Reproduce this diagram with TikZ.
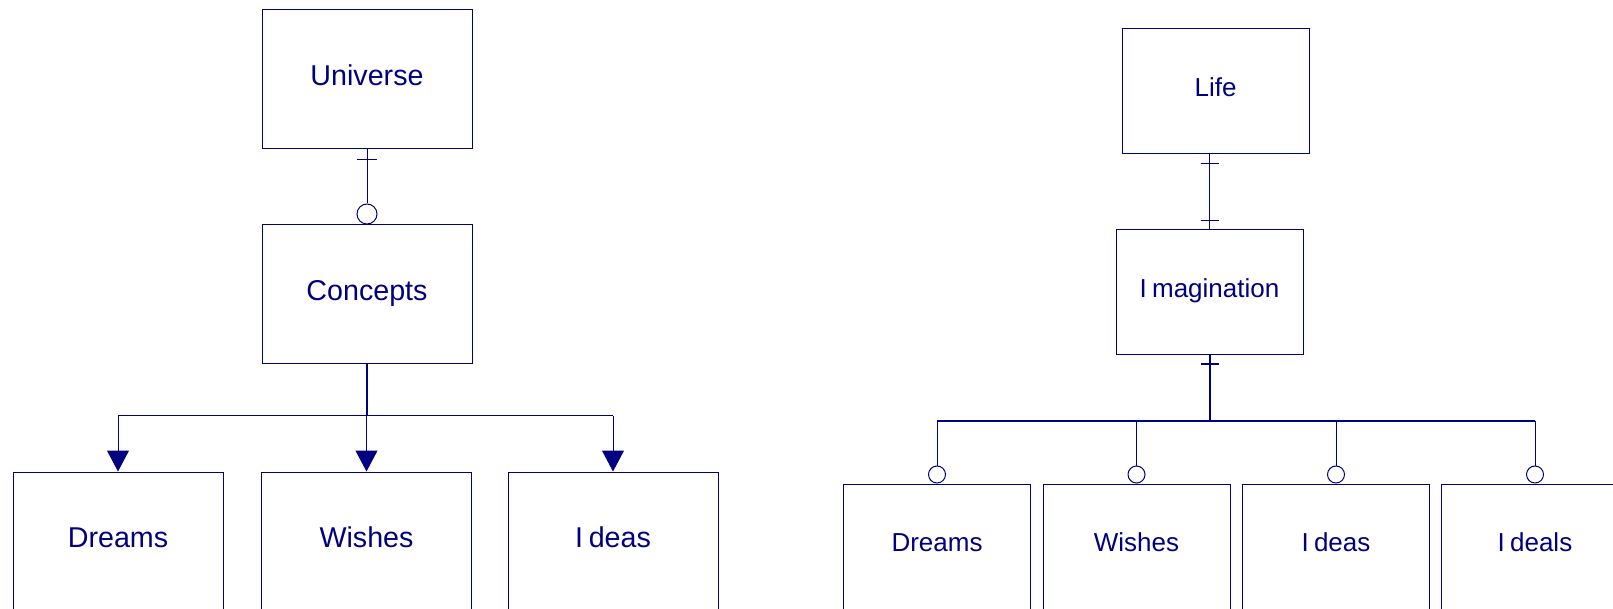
\documentclass[tikz,border=0pt]{standalone}
\usepackage{fontspec}
\setmainfont{Liberation Sans}
\usetikzlibrary{arrows.meta,calc}
\definecolor{navy}{RGB}{0,0,128}
\begin{document}
\begin{tikzpicture}[x=0.75pt,y=-0.75pt,
  box/.style={draw=navy, line width=0.75pt, text=navy, inner sep=0pt, fill=white},
  lbox/.style={box, minimum width=157.5pt, minimum height=104.25pt,
    font=\fontsize{21.5}{24}\selectfont, text height=16pt, text depth=6.6pt},
  rbox/.style={box, minimum width=140.25pt, minimum height=93.75pt,
    font=\fontsize{19.5}{22}\selectfont, text height=14.5pt, text depth=6.54pt},
  rchild/.style={rbox, minimum height=97.5pt, text depth=11.04pt},
  conn/.style={draw=navy, line width=0.75pt},
  heavy/.style={draw=navy, line width=1.5pt},
  arr/.style={-{Triangle[length=15.75pt,width=16.5pt]}},
  lopt/.style={circle, draw=navy, line width=0.75pt, fill=white, minimum size=15pt, inner sep=0pt},
  ropt/.style={circle, draw=navy, line width=0.75pt, fill=white, minimum size=12.75pt, inner sep=0pt}
]
\useasboundingbox (0,0) rectangle (1613,609);
\clip (0,0) rectangle (1613,609);

% ---------- left tree ----------
\node[lbox] (universe) at (367,79.5) {Universe};
\node[lbox] (concepts) at (367,294.5) {Concepts};
\node[lbox] (ldreams) at (118,541.5) {Dreams};
\node[lbox] (lwishes) at (366.5,541.5) {Wishes};
\node[lbox] (lideas) at (613,541.5) {I\kern0.2em deas};

\node[lopt, anchor=south] (lc) at (concepts.north) {};
\draw[conn] (universe.south) -- (lc.north);
\draw[conn] ($(universe.south)+(-10,10)$) -- ++(20,0);

\coordinate (lj) at ($(concepts.south)+(0,51)$);
\draw[heavy] (concepts.south) -- (lj);
\draw[conn] (lj -| ldreams.north) -- (lj -| lideas.north);
\draw[conn,arr] (lj -| ldreams.north) -- (ldreams.north);
\draw[conn,arr] (lj -| lwishes.north) -- (lwishes.north);
\draw[conn,arr] (lj -| lideas.north) -- (lideas.north);

% ---------- right tree ----------
\node[rbox] (life) at (1215.5,91.5) {Life};
\node[rbox] (imag) at (1209.5,292.5) {I\kern0.2em magination};
\node[rchild] (rdreams) at (937,549) {Dreams};
\node[rchild] (rwishes) at (1136.5,549) {Wishes};
\node[rchild] (rideas) at (1336,549) {I\kern0.2em deas};
\node[rchild] (rideals) at (1535,549) {I\kern0.2em deals};

\coordinate (lt) at (life.south -| imag.north);
\draw[conn] (lt) -- (imag.north);
\draw[conn] ($(lt)+(-9,9)$) -- ++(18,0);
\draw[conn] ($(imag.north)+(-9,-9)$) -- ++(18,0);

\coordinate (rj) at ($(imag.south)+(0,65)$);
\draw[heavy] (imag.south) -- (rj);
\draw[heavy] ($(imag.south)+(-9,9)$) -- ++(18,0);
\draw[heavy] (rj -| rdreams.north) -- (rj -| rideals.north);
\foreach \c/\o in {rdreams/o1, rwishes/o2, rideas/o3, rideals/o4} {
  \node[ropt, anchor=south] (\o) at (\c.north) {};
  \draw[conn] (rj -| \c.north) -- (\o.north);
}
\end{tikzpicture}
\end{document}
